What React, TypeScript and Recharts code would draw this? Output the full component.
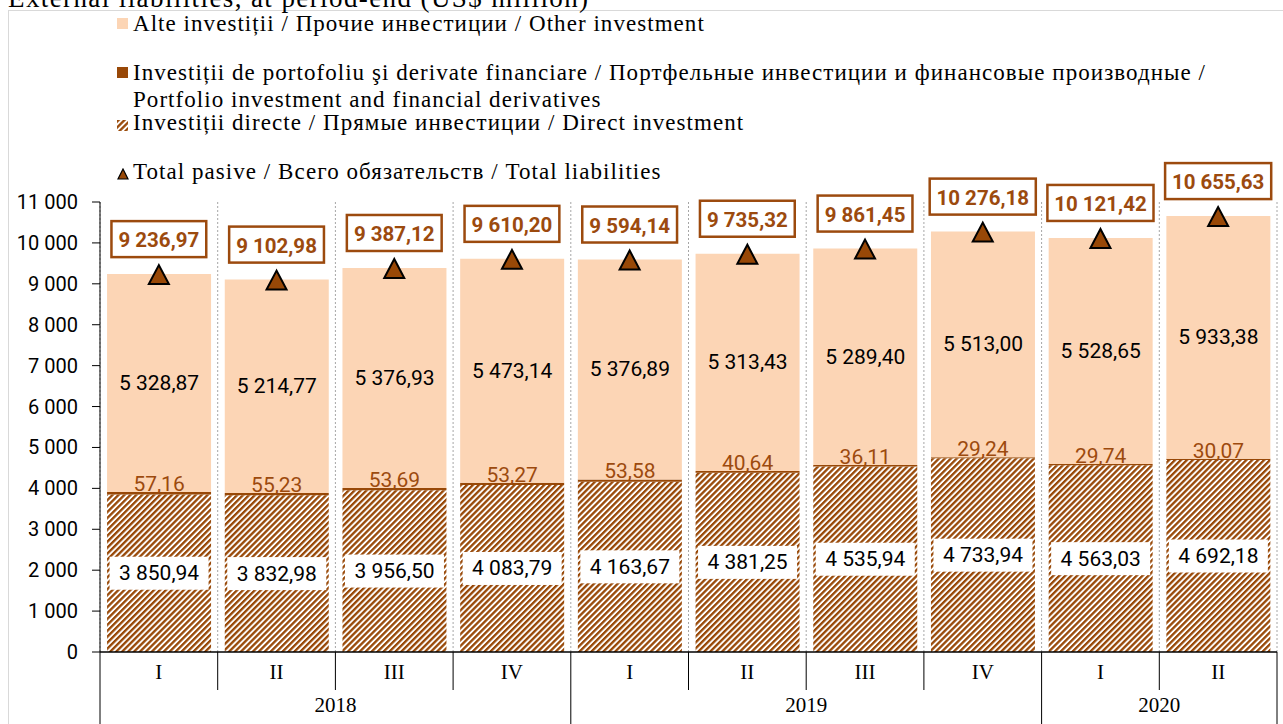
import React from "react";
import {
  ComposedChart,
  Bar,
  Line,
  XAxis,
  YAxis,
  CartesianGrid,
  LabelList,
} from "recharts";

// Datele graficului (mil. USD, sfârșit de perioadă)
const quarters = ["I", "II", "III", "IV", "I", "II", "III", "IV", "I", "II"];
const years = ["2018", "2018", "2018", "2018", "2019", "2019", "2019", "2019", "2020", "2020"];
const directInvestment = [3850.94, 3832.98, 3956.5, 4083.79, 4163.67, 4381.25, 4535.94, 4733.94, 4563.03, 4692.18];
const portfolioInvestment = [57.16, 55.23, 53.69, 53.27, 53.58, 40.64, 36.11, 29.24, 29.74, 30.07];
const otherInvestment = [5328.87, 5214.77, 5376.93, 5473.14, 5376.89, 5313.43, 5289.4, 5513.0, 5528.65, 5933.38];
const totalLiabilities = [9236.97, 9102.98, 9387.12, 9610.2, 9594.14, 9735.32, 9861.45, 10276.18, 10121.42, 10655.63];
const yTicks = [0, 1000, 2000, 3000, 4000, 5000, 6000, 7000, 8000, 9000, 10000, 11000];

const data = quarters.map((q, i) => ({
  idx: i,
  quarter: q,
  year: years[i],
  direct: directInvestment[i],
  portfolio: portfolioInvestment[i],
  other: otherInvestment[i],
  total: totalLiabilities[i],
}));

const W = 1283;
const H = 724;
const MARGIN = { top: 202, right: 6, bottom: 0, left: 0 };
const Y_AXIS_W = 100;
const X_AXIS_H = 72;
const PLOT_W = W - MARGIN.left - MARGIN.right - Y_AXIS_W;
const BAND = PLOT_W / quarters.length;

const BROWN = "#984807";
const LABEL_BROWN = "#9c4a0e";
const PALE = "#fcd5b5";
const SANS = "Roboto, 'Liberation Sans', sans-serif";
const SERIF = "'Liberation Serif', serif";

// 3 850,94 / 11 000
const fmt = (v: number, dec = 2) => {
  const [int, frac] = v.toFixed(dec).split(".");
  const grouped = int.replace(/\B(?=(\d{3})+(?!\d))/g, "\u00a0");
  return frac ? `${grouped},${frac}` : grouped;
};

const textWidth = (s: string, digit: number, narrow: number) =>
  s.split("").reduce((w, c) => w + (/\d/.test(c) ? digit : narrow), 0);

function DirectLabel(props: any) {
  const { x, y, width, height, value } = props;
  const cx = x + width / 2;
  const cy = y + height / 2;
  return (
    <g>
      <rect x={cx - 49.5} y={cy - 16.5} width={99} height={33} fill="#fff" />
      <text x={cx} y={cy} textAnchor="middle" dominantBaseline="central" fontFamily={SANS} fontSize={21} fill="#000">
        {fmt(value)}
      </text>
    </g>
  );
}

// eticheta "alte investiții" + cea a portofoliului (desenată aici ca să nu fie acoperită)
function OtherLabel(props: any) {
  const { x, y, width, height, value, index } = props;
  const cx = x + width / 2;
  return (
    <g>
      <text x={cx} y={y + height / 2} textAnchor="middle" dominantBaseline="central" fontFamily={SANS} fontSize={21} fill="#000">
        {fmt(value)}
      </text>
      <text x={cx} y={y + height - 1} textAnchor="middle" fontFamily={SANS} fontSize={21} fill={LABEL_BROWN}>
        {fmt(portfolioInvestment[index])}
      </text>
    </g>
  );
}

function TotalLabel(props: any) {
  const { x, y, value } = props;
  const s = fmt(value);
  const w = textWidth(s, 11.3, 4.5) + 18;
  const cy = y - 35;
  return (
    <g>
      <rect x={x - w / 2} y={cy - 18} width={w} height={36} fill="#fff" stroke={LABEL_BROWN} strokeWidth={2.5} />
      <text x={x} y={cy + 1} textAnchor="middle" dominantBaseline="central" fontFamily={SANS} fontWeight={700} fontSize={20.5} fill={LABEL_BROWN}>
        {s}
      </text>
    </g>
  );
}

function Triangle(props: any) {
  const { cx, cy, index } = props;
  if (cx == null || cy == null) return <g key={index} />;
  return (
    <polygon
      key={index}
      points={`${cx},${cy - 9} ${cx - 10},${cy + 10} ${cx + 10},${cy + 10}`}
      fill={BROWN}
      stroke="#000"
      strokeWidth={2}
    />
  );
}

// axa X pe două niveluri: trimestre + ani
function QuarterYearTick(props: any) {
  const { x, y, payload } = props;
  const i = payload.value as number;
  const left = x - BAND / 2;
  const yearStart = i === 0 || years[i] !== years[i - 1];
  let groupLen = 0;
  if (yearStart) {
    while (i + groupLen < years.length && years[i + groupLen] === years[i]) groupLen++;
  }
  const isLast = i === quarters.length - 1;
  return (
    <g>
      <line x1={left} y1={y} x2={left} y2={yearStart ? y + X_AXIS_H : y + 38} stroke="#000" strokeWidth={1} />
      {isLast && <line x1={left + BAND} y1={y} x2={left + BAND} y2={y + X_AXIS_H} stroke="#000" strokeWidth={1} />}
      <text x={x} y={y + 20} textAnchor="middle" dominantBaseline="central" fontFamily={SERIF} fontSize={21} fill="#000">
        {quarters[i]}
      </text>
      {yearStart && (
        <text x={left + (groupLen * BAND) / 2} y={y + 53} textAnchor="middle" dominantBaseline="central" fontFamily={SERIF} fontSize={21} fill="#000">
          {years[i]}
        </text>
      )}
    </g>
  );
}

function YTick(props: any) {
  const { x, y, payload } = props;
  return (
    <text x={x} y={y} textAnchor="end" dominantBaseline="central" fontFamily={SANS} fontSize={20} fill="#000">
      {fmt(payload.value, 0)}
    </text>
  );
}

const legendText: React.CSSProperties = {
  position: "absolute",
  left: 133,
  fontFamily: SERIF,
  fontSize: 23,
  letterSpacing: "1.05px",
  lineHeight: "26px",
  whiteSpace: "nowrap",
  color: "#000",
};

function LegendBlock() {
  const row = (cy: number, text: string, icon?: React.ReactNode) => (
    <>
      {icon && <div style={{ position: "absolute", left: 117, top: cy - 6, width: 12, height: 12 }}>{icon}</div>}
      <div style={{ ...legendText, top: cy - 13 }}>{text}</div>
    </>
  );
  return (
    <>
      {row(24, "Alte investiții / Прочие инвестиции / Other investment", <div style={{ width: 11, height: 11, background: PALE }} />)}
      {row(
        73,
        "Investiții de portofoliu şi derivate financiare / Портфельные инвестиции и финансовые производные /",
        <div style={{ width: 11, height: 11, background: BROWN }} />
      )}
      {row(100, "Portfolio investment and financial derivatives")}
      {row(
        123,
        "Investiții directe / Прямые инвестиции / Direct investment",
        <svg width={11} height={11}>
          <rect width={11} height={11} fill="url(#hatchDirect)" />
        </svg>
      )}
      {row(
        172,
        "Total pasive / Всего обязательств / Total liabilities",
        <svg width={12} height={12}>
          <polygon points="6,1 1,11 11,11" fill={BROWN} stroke="#000" strokeWidth={1.2} />
        </svg>
      )}
    </>
  );
}

export default function App() {
  return (
    <div style={{ position: "absolute", left: 0, top: 0, width: W, height: H, overflow: "hidden", background: "#fff" }}>
      <svg width={0} height={0} style={{ position: "absolute" }}>
        <defs>
          <pattern id="hatchDirect" width={4.2} height={4.2} patternUnits="userSpaceOnUse" patternTransform="rotate(45)">
            <rect width={4.2} height={4.2} fill="#fff" />
            <rect width={2.3} height={4.2} fill={BROWN} />
          </pattern>
        </defs>
      </svg>
      <div
        style={{
          position: "absolute",
          left: 8,
          top: 10,
          width: W,
          height: H,
          borderTop: "1px solid #d9d9d9",
          borderLeft: "1px solid #d9d9d9",
        }}
      />
      <div
        style={{
          position: "absolute",
          left: 8,
          top: -17,
          fontFamily: SERIF,
          fontSize: 27,
          letterSpacing: "1.4px",
          lineHeight: "30px",
          whiteSpace: "nowrap",
          color: "#000",
        }}
      >
        External liabilities, at period-end (US$ million)
      </div>
      <LegendBlock />
      <div style={{ position: "absolute", left: 0, top: 0 }}>
        <ComposedChart width={W} height={H} data={data} margin={MARGIN} barCategoryGap="6%">
          <CartesianGrid
            horizontal={false}
            stroke="#a6a6a6"
            strokeDasharray="2 2"
            verticalCoordinatesGenerator={({ offset }: any) =>
              quarters.map((_, i) => offset.left + i * (offset.width / quarters.length)).concat(offset.left + offset.width)
            }
          />
          <XAxis
            dataKey="idx"
            type="category"
            height={X_AXIS_H}
            tickLine={false}
            tickSize={0}
            tickMargin={0}
            axisLine={{ stroke: "#000", strokeWidth: 1.5 }}
            tick={<QuarterYearTick />}
            interval={0}
          />
          <YAxis
            width={Y_AXIS_W}
            domain={[0, 11000]}
            ticks={yTicks}
            interval={0}
            tickSize={8}
            tickMargin={14}
            axisLine={{ stroke: "#000" }}
            tickLine={{ stroke: "#000" }}
            tick={<YTick />}
          />
          <Bar dataKey="direct" stackId="s" fill="url(#hatchDirect)" isAnimationActive={false}>
            <LabelList dataKey="direct" content={<DirectLabel />} />
          </Bar>
          <Bar dataKey="portfolio" stackId="s" fill={BROWN} isAnimationActive={false} />
          <Bar dataKey="other" stackId="s" fill={PALE} isAnimationActive={false}>
            <LabelList dataKey="other" content={<OtherLabel />} />
          </Bar>
          <Line dataKey="total" stroke="none" dot={<Triangle />} activeDot={false} isAnimationActive={false}>
            <LabelList dataKey="total" content={<TotalLabel />} />
          </Line>
        </ComposedChart>
      </div>
    </div>
  );
}
